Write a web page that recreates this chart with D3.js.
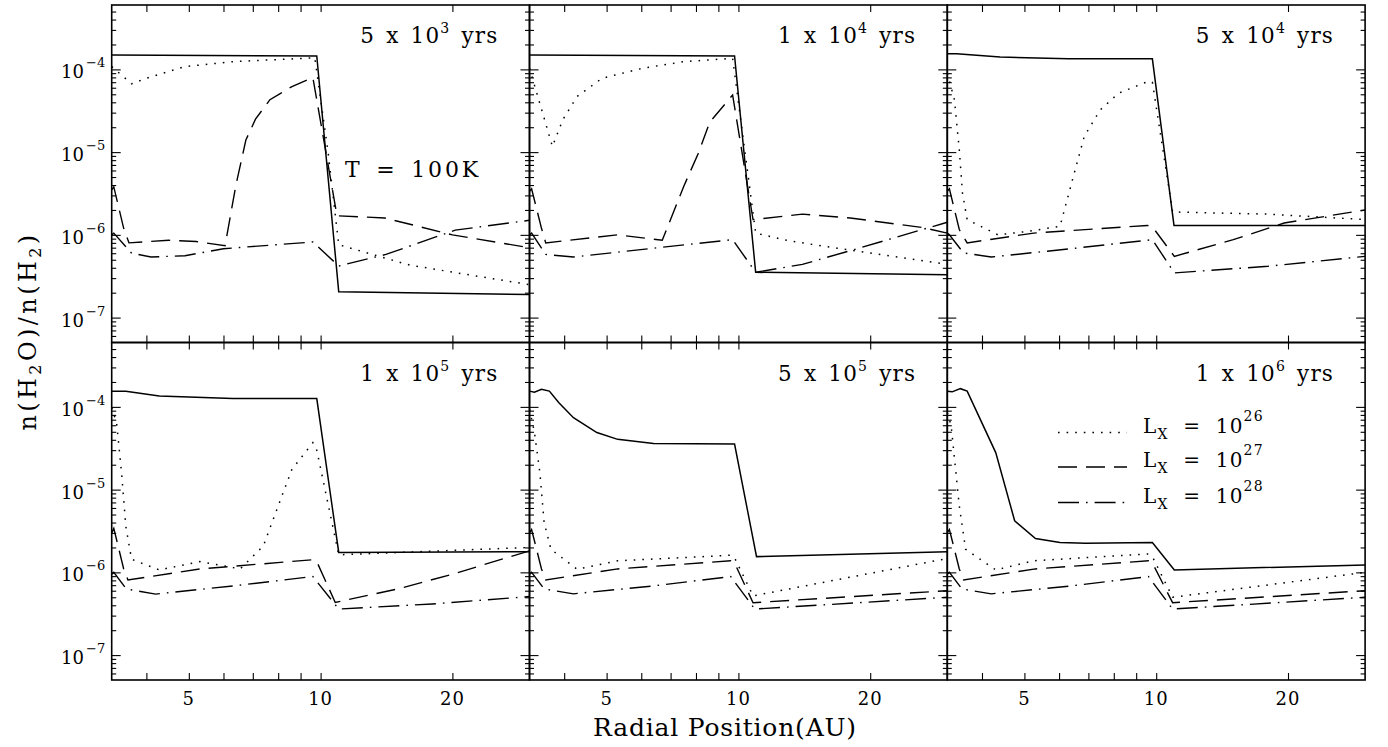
<!DOCTYPE html>
<html><head><meta charset="utf-8">
<script src="https://cdn.jsdelivr.net/npm/d3@7"></script>
<style>
body{margin:0;background:#fff}
svg{display:block}
text{font-family:"DejaVu Serif",serif;fill:#000}
</style>
</head><body>
<svg id="chart" width="1388" height="747"></svg>
<script>
// ---------- data ----------
const radiusDomain = [3.333, 30];
const abundanceDomain = [5e-8, 6e-4];
const xTickLabels = [5, 10, 20];
const xMinorTicks = [4, 6, 7, 8, 9];
const yTickExponents = [-4, -5, -6, -7];
const ageMantissa = [5, 1, 5, 1, 5, 1];
const ageExponent = [3, 4, 4, 5, 5, 6];
const legendExponents = [26, 27, 28];

// panel 1 : 5 x 10^3 yrs
const p1Solid = [[3.333,1.49e-4],[9.8,1.45e-4],[11.0,2.05e-7],[30,1.9e-7]];
const p1Lx26 = [[3.333,1.08e-4],[3.7,6.7e-5],[4.0,7.8e-5],[4.9,1.08e-4],[6.3,1.24e-4],[9.7,1.38e-4],[10.4,1.0e-5],[11.0,7.6e-7],[16,4.3e-7],[30,2.5e-7]];
const p1Lx27 = [[3.333,3.5e-6],[3.37,3.8e-6],[3.55,1.2e-6],[3.65,8.0e-7],[4.5,8.6e-7],[5.2,8.3e-7],[6.05,7.4e-7],[6.4,3.9e-6],[6.75,1.4e-5],[7.1,2.5e-5],[7.66,4.3e-5],[8.6,6.2e-5],[9.6,8.0e-5],[10.9,1.7e-6],[14,1.6e-6],[20,1.0e-6],[30,7.0e-7]];
const p1Lx28 = [[3.333,1.0e-6],[3.37,1.05e-6],[3.7,6.0e-7],[4.1,5.4e-7],[4.9,5.6e-7],[6.0,6.8e-7],[9.6,8.2e-7],[11.0,4.2e-7],[14.1,5.8e-7],[20.3,1.14e-6],[30,1.5e-6]];
// panel 2 : 1 x 10^4 yrs
const p2Solid = [[3.333,1.49e-4],[9.8,1.45e-4],[10.95,3.53e-7],[30,3.3e-7]];
const p2Lx26 = [[3.333,1.03e-4],[3.76,1.17e-5],[3.97,2.46e-5],[4.28,4.7e-5],[4.88,7.8e-5],[6.03,1.03e-4],[7.5,1.24e-4],[9.7,1.36e-4],[10.95,1.05e-6],[13,8.5e-7],[16.8,6.9e-7],[30,4.4e-7]];
const p2Lx27 = [[3.333,3.35e-6],[3.37,3.6e-6],[3.55,1.2e-6],[3.63,8.0e-7],[5.3,1.0e-6],[6.7,8.6e-7],[7.5,3.85e-6],[8.1,9.7e-6],[8.6,2.3e-5],[9.7,4.9e-5],[10.8,1.53e-6],[14,1.78e-6],[18,1.6e-6],[26.5,1.22e-6],[30,1.05e-6]];
const p2Lx28 = [[3.333,1.0e-6],[3.37,1.05e-6],[3.63,5.8e-7],[4.2,5.4e-7],[6.4,6.9e-7],[9.7,8.75e-7],[10.95,3.53e-7],[14,4.4e-7],[18.3,6.6e-7],[30,1.42e-6]];
// panel 3 : 5 x 10^4 yrs
const p3Solid = [[3.333,1.54e-4],[3.5,1.55e-4],[4.4,1.41e-4],[6.3,1.34e-4],[9.8,1.34e-4],[10.98,1.30e-6],[30,1.30e-6]];
const p3Lx26 = [[3.333,9.0e-5],[3.46,4.3e-5],[3.55,1.07e-5],[3.61,3.2e-6],[3.7,1.53e-6],[4.35,1.0e-6],[5.08,1.1e-6],[6.03,1.27e-6],[6.5,5.6e-6],[6.85,1.55e-5],[7.45,3.24e-5],[8.2,5.15e-5],[9.55,7.1e-5],[9.8,7.0e-5],[10.9,1.89e-6],[18,1.78e-6],[30,1.53e-6]];
const p3Lx27 = [[3.333,3.35e-6],[3.37,3.6e-6],[3.55,1.16e-6],[3.7,8.0e-7],[5.25,1.05e-6],[9.55,1.30e-6],[9.8,1.25e-6],[11,5.5e-7],[15,8.75e-7],[19.6,1.39e-6],[30,2.0e-6]];
const p3Lx28 = [[3.333,1.05e-6],[3.37,1.0e-6],[3.63,6.04e-7],[4.2,5.4e-7],[6.3,6.75e-7],[9.8,8.75e-7],[11,3.47e-7],[18,4.17e-7],[30,5.5e-7]];
// panel 4 : 1 x 10^5 yrs
const p4Solid = [[3.333,1.55e-4],[3.59,1.55e-4],[4.28,1.35e-4],[6.3,1.26e-4],[9.8,1.26e-4],[11.0,1.74e-6],[30,1.78e-6]];
const p4Lx26 = [[3.333,9.8e-5],[3.42,6.4e-5],[3.51,1.6e-5],[3.59,3.6e-6],[3.7,1.44e-6],[4.28,1.07e-6],[5.3,1.35e-6],[6.55,1.1e-6],[7.4,2.09e-6],[8.0,6.35e-6],[8.6,1.76e-5],[9.6,3.69e-5],[9.8,3.0e-5],[11,1.63e-6],[30,2.0e-6]];
const p4Lx27 = [[3.333,3.0e-6],[3.37,3.4e-6],[3.55,1.1e-6],[3.63,8.1e-7],[5.3,1.1e-6],[9.6,1.42e-6],[9.8,1.35e-6],[10.8,4.33e-7],[15,6.3e-7],[20,9.5e-7],[30,1.82e-6]];
const p4Lx28 = [[3.333,9.5e-7],[3.37,1.0e-6],[3.6,6.3e-7],[4.2,5.46e-7],[6.3,6.85e-7],[9.6,8.9e-7],[11,3.6e-7],[18,4.15e-7],[30,5.1e-7]];
// panel 5 : 5 x 10^5 yrs
const p5Solid = [[3.333,1.55e-4],[3.42,1.5e-4],[3.55,1.63e-4],[3.7,1.55e-4],[3.89,1.12e-4],[4.2,7.4e-5],[4.75,4.9e-5],[5.3,4.05e-5],[6.4,3.62e-5],[9.8,3.55e-5],[11.0,1.55e-6],[30,1.78e-6]];
const p5Lx26 = [[3.333,9.3e-5],[3.42,5.0e-5],[3.52,1.6e-5],[3.6,4.0e-6],[3.73,1.9e-6],[4.28,1.09e-6],[5.3,1.38e-6],[9.6,1.61e-6],[9.8,1.5e-6],[10.8,5.2e-7],[30,1.47e-6]];
const p5Lx27 = [[3.333,3.0e-6],[3.37,3.3e-6],[3.55,1.1e-6],[3.63,8.1e-7],[5.3,1.1e-6],[9.6,1.38e-6],[9.8,1.3e-6],[10.8,4.3e-7],[30,6.0e-7]];
const p5Lx28 = [[3.333,9.5e-7],[3.37,1.0e-6],[3.6,6.3e-7],[4.2,5.5e-7],[6.3,6.8e-7],[9.6,8.9e-7],[10.9,3.6e-7],[30,5.0e-7]];
// panel 6 : 1 x 10^6 yrs
const p6Solid = [[3.333,1.55e-4],[3.42,1.52e-4],[3.57,1.66e-4],[3.7,1.55e-4],[4.3,2.8e-5],[4.75,4.2e-6],[5.3,2.56e-6],[6.03,2.3e-6],[6.9,2.25e-6],[9.8,2.3e-6],[11,1.07e-6],[30,1.23e-6]];
const p6Lx26 = [[3.333,8.5e-5],[3.4,6.0e-5],[3.55,6.35e-6],[3.67,1.9e-6],[4.3,1.07e-6],[5.25,1.38e-6],[9.55,1.67e-6],[9.8,1.55e-6],[10.9,5.0e-7],[30,1.0e-6]];
const p6Lx27 = [[3.333,3.0e-6],[3.37,3.3e-6],[3.55,1.1e-6],[3.63,8.1e-7],[5.3,1.1e-6],[9.6,1.38e-6],[9.8,1.3e-6],[10.9,4.3e-7],[30,6.0e-7]];
const p6Lx28 = [[3.333,9.5e-7],[3.37,1.0e-6],[3.6,6.3e-7],[4.2,5.5e-7],[6.3,6.8e-7],[9.6,8.9e-7],[10.9,3.6e-7],[30,5.0e-7]];

const panelSeries = [
  [p1Solid,p1Lx26,p1Lx27,p1Lx28],
  [p2Solid,p2Lx26,p2Lx27,p2Lx28],
  [p3Solid,p3Lx26,p3Lx27,p3Lx28],
  [p4Solid,p4Lx26,p4Lx27,p4Lx28],
  [p5Solid,p5Lx26,p5Lx27,p5Lx28],
  [p6Solid,p6Lx26,p6Lx27,p6Lx28]
];

// ---------- layout / style ----------
const LEFT = 111.7, COLW = 417.8, TOP = 5, ROWH = 337.5;
const lineStyles = [
  {dash:null, w:1.5},
  {dash:"1.6,7", w:1.5},
  {dash:"19,9", w:1.4},
  {dash:"21,7,1.6,7", w:1.4}
];

const svg = d3.select("#chart");
svg.append("rect").attr("width",1388).attr("height",747).attr("fill","#fff");
const defs = svg.append("defs");

function yTickValues(){
  const major = yTickExponents.map(e => Math.pow(10, e));
  const minor = [];
  for (let e = -8; e <= -4; e++) for (let k = 2; k <= 9; k++) {
    const v = k * Math.pow(10, e);
    if (v > abundanceDomain[0]*1.0001 && v < abundanceDomain[1]*0.9999) minor.push(v);
  }
  return {major, minor};
}
const yt = yTickValues();

panelSeries.forEach((series, i) => {
  const col = i % 3, row = Math.floor(i / 3);
  const x0 = LEFT + col*COLW, y0 = TOP + row*ROWH;
  const x = d3.scaleLog().domain(radiusDomain).range([x0, x0+COLW]);
  const y = d3.scaleLog().domain(abundanceDomain).range([y0+ROWH, y0]);
  const g = svg.append("g");

  defs.append("clipPath").attr("id","clip"+i)
    .append("rect").attr("x",x0).attr("y",y0).attr("width",COLW).attr("height",ROWH);

  const line = d3.line().x(d => x(d[0])).y(d => y(d[1]));
  const lg = g.append("g").attr("clip-path", `url(#clip${i})`);
  series.forEach((s, j) => {
    lg.append("path").attr("d", line(s)).attr("fill","none")
      .attr("stroke","#000").attr("stroke-width", lineStyles[j].w)
      .attr("stroke-dasharray", lineStyles[j].dash);
  });

  // ticks via d3 axes (inward)
  const strip = sel => { sel.select(".domain").remove(); sel.selectAll("line").attr("stroke","#000").attr("stroke-width",1.1); };
  const xt = xTickLabels.concat(xMinorTicks);
  g.append("g").attr("transform",`translate(0,${y0+ROWH})`)
    .call(d3.axisBottom(x).tickValues(xt).tickSize(-7).tickSizeOuter(0).tickFormat("")).call(strip);
  g.append("g").attr("transform",`translate(0,${y0})`)
    .call(d3.axisTop(x).tickValues(xt).tickSize(-7).tickSizeOuter(0).tickFormat("")).call(strip);
  g.append("g").attr("transform",`translate(${x0},0)`)
    .call(d3.axisLeft(y).tickValues(yt.major).tickSize(-9).tickSizeOuter(0).tickFormat("")).call(strip);
  g.append("g").attr("transform",`translate(${x0},0)`)
    .call(d3.axisLeft(y).tickValues(yt.minor).tickSize(-4.5).tickSizeOuter(0).tickFormat("")).call(strip);
  g.append("g").attr("transform",`translate(${x0+COLW},0)`)
    .call(d3.axisRight(y).tickValues(yt.major).tickSize(-9).tickSizeOuter(0).tickFormat("")).call(strip);
  g.append("g").attr("transform",`translate(${x0+COLW},0)`)
    .call(d3.axisRight(y).tickValues(yt.minor).tickSize(-4.5).tickSizeOuter(0).tickFormat("")).call(strip);

  g.append("rect").attr("x",x0).attr("y",y0).attr("width",COLW).attr("height",ROWH)
    .attr("fill","none").attr("stroke","#000").attr("stroke-width",1.6);

  // y tick labels
  if (col === 0) {
    yTickExponents.forEach(e => {
      const t = g.append("text").attr("x", x0-6.5).attr("y", y(Math.pow(10,e))+9)
        .attr("text-anchor","end").attr("font-size",18);
      t.append("tspan").text("10");
      t.append("tspan").attr("font-size",13).attr("dy",-11).attr("dx",2).text("\u2212" + Math.abs(e));
    });
  }
  // x tick labels
  if (row === 1) {
    xTickLabels.forEach(v => {
      g.append("text").attr("x", x(v)).attr("y", 705).attr("text-anchor","middle")
        .attr("font-size",18).attr("letter-spacing",1).text(v);
    });
  }
  // panel title
  const right = x0 + COLW - 31;
  const t = g.append("text").attr("x", right).attr("y", y0+38).attr("text-anchor","end")
    .attr("font-size",21.5).style("letter-spacing","1.2px").style("word-spacing","3px");
  t.append("tspan").text(ageMantissa[i] + " x 10");
  t.append("tspan").attr("font-size",14).attr("dy",-10).text(ageExponent[i]);
  t.append("tspan").attr("dy",10).text(" yrs");
});

// T = 100K annotation (panel 1)
svg.append("text").attr("x",345).attr("y",177).attr("font-size",22)
  .style("letter-spacing","2.8px").style("word-spacing","4px").text("T = 100K");

// legend (panel 6)
const legX0 = 1058, legX1 = 1127, legTextX = 1143;
const legY = [432.5, 467, 502.5];
legendExponents.forEach((ex, k) => {
  const st = lineStyles[k+1];
  svg.append("line").attr("x1",legX0).attr("x2",legX1).attr("y1",legY[k]).attr("y2",legY[k])
    .attr("stroke","#000").attr("stroke-width",st.w).attr("stroke-dasharray",st.dash);
  const t = svg.append("text").attr("x",legTextX).attr("y",legY[k]).attr("font-size",20)
    .style("letter-spacing","1.2px").style("word-spacing","7px");
  t.append("tspan").text("L");
  t.append("tspan").attr("font-size",14).attr("dy",6).text("X");
  t.append("tspan").attr("dy",-6).text(" = 10");
  t.append("tspan").attr("font-size",14).attr("dy",-12).text(ex);
});

// axis titles
svg.append("text").attr("x",725).attr("y",736).attr("text-anchor","middle")
  .attr("font-size",25).style("letter-spacing","0.8px").text("Radial Position(AU)");

const yl = svg.append("text").attr("transform","translate(36,331) rotate(-90)")
  .attr("text-anchor","middle").attr("font-size",24).style("letter-spacing","3.4px");
yl.append("tspan").text("n(H");
yl.append("tspan").attr("font-size",16).attr("dy",5).text("2");
yl.append("tspan").attr("dy",-5).text("O)/n(H");
yl.append("tspan").attr("font-size",16).attr("dy",5).text("2");
yl.append("tspan").attr("dy",-5).text(")");
</script>
</body></html>
